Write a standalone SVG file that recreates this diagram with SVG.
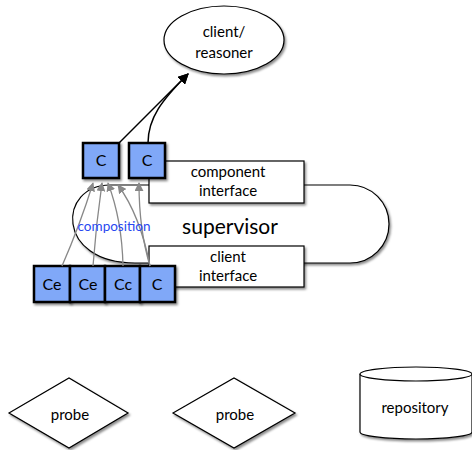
<svg xmlns="http://www.w3.org/2000/svg" width="472" height="450" viewBox="0 0 472 450">
<style>
text{font-family:Lato,"Open Sans","DejaVu Sans",sans-serif;fill:#000;text-anchor:middle}
.box{fill:#80a8f8;stroke:#000;stroke-width:2.5}
.shape{fill:#fff;stroke:#000;stroke-width:1.2}
.bt{font-size:16px}
.t{font-size:15px}
.g{fill:none;stroke:#888;stroke-width:1.3}
.k{fill:none;stroke:#000;stroke-width:1.5}
</style>
<defs>
<filter id="sh" x="-20%" y="-20%" width="150%" height="150%"><feDropShadow dx="1.5" dy="2" stdDeviation="1.2" flood-color="#000" flood-opacity="0.45"/></filter>
<marker id="ga" viewBox="0 0 10 10" refX="9" refY="5" markerWidth="9" markerHeight="9" markerUnits="userSpaceOnUse" orient="auto"><path d="M0,0 L10,5 L0,10 Z" fill="#888"/></marker>
<marker id="ka" viewBox="0 0 10 10" refX="9" refY="5" markerWidth="11" markerHeight="11" markerUnits="userSpaceOnUse" orient="auto"><path d="M0,0 L10,5 L0,10 Z" fill="#000"/></marker>
</defs>
<g id="supervisor">
<path class="shape" filter="url(#sh)" d="M110,185 H350 A39,39 0 0 1 350,263 H135 C55,263 58,185 110,185 Z"/>
<text x="230" y="234" style="font-size:21px">supervisor</text>
</g>
<g id="client-reasoner">
<ellipse class="shape" filter="url(#sh)" cx="224" cy="40" rx="60" ry="34"/>
<text class="t" x="224" y="37">client/</text>
<text class="t" x="224" y="58">reasoner</text>
</g>
<g id="component-interface">
<rect class="shape" filter="url(#sh)" x="149" y="161" width="155" height="42"/>
<text class="t" x="228" y="177">component</text>
<text class="t" x="228" y="196">interface</text>
</g>
<g id="client-interface">
<rect class="shape" filter="url(#sh)" x="149" y="246" width="155" height="41"/>
<text class="t" x="228" y="262">client</text>
<text class="t" x="228" y="281">interface</text>
</g>
<g id="c-top-1"><rect class="box" filter="url(#sh)" x="83" y="143" width="36" height="35"/><text class="bt" x="101" y="166">C</text></g>
<g id="c-top-2"><rect class="box" filter="url(#sh)" x="129" y="143" width="36" height="35"/><text class="bt" x="147" y="166">C</text></g>
<g id="ce-1"><rect class="box" filter="url(#sh)" x="34" y="266" width="36" height="36"/><text class="bt" x="52" y="290">Ce</text></g>
<g id="ce-2"><rect class="box" filter="url(#sh)" x="70" y="266" width="35" height="36"/><text class="bt" x="88" y="290">Ce</text></g>
<g id="cc"><rect class="box" filter="url(#sh)" x="105" y="266" width="35" height="36"/><text class="bt" x="123" y="290">Cc</text></g>
<g id="c-bottom"><rect class="box" filter="url(#sh)" x="140" y="266" width="35" height="36"/><text class="bt" x="157" y="290">C</text></g>
<g id="connectors">
<path class="g" marker-end="url(#ga)" d="M62,266 Q80,225 93,183"/>
<path class="g" marker-end="url(#ga)" d="M93,266 Q96,225 102,183"/>
<path class="g" marker-end="url(#ga)" d="M123,266 Q122,220 108,183"/>
<path class="g" marker-end="url(#ga)" d="M150,266 Q140,215 118,185"/>
<path class="g" marker-end="url(#ga)" d="M150,266 Q139,230 139,183"/>
<path class="k" marker-end="url(#ka)" d="M119,143 L188,74"/>
<path class="k" marker-end="url(#ka)" d="M148,143 C148,118 162,100 188,74"/>
</g>
<text x="114" y="231" style="font-size:13.5px;fill:#2848f0">composition</text>
<g id="probe-1">
<path class="shape" filter="url(#sh)" d="M9,413 L69,378 L128,413 L69,448 Z"/>
<text class="t" x="70" y="420">probe</text>
</g>
<g id="probe-2">
<path class="shape" filter="url(#sh)" d="M173,413 L234,378 L295,413 L234,448 Z"/>
<text class="t" x="235" y="420">probe</text>
</g>
<g id="repository">
<path class="shape" filter="url(#sh)" d="M360,374 A56,7 0 0 1 472,374 V432 A56,7 0 0 1 360,432 Z"/>
<path class="shape" d="M360,374 A56,7 0 0 0 472,374"/>
<text class="t" x="415" y="413">repository</text>
</g>
</svg>
